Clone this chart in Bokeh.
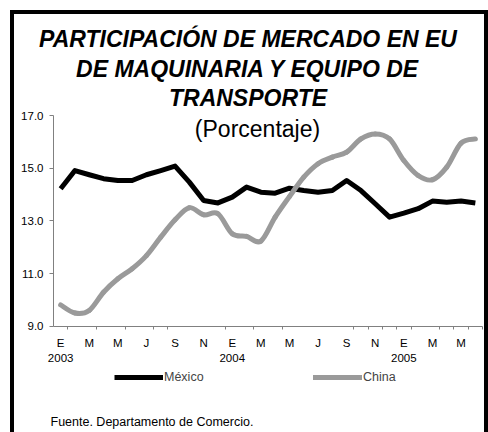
from bokeh.plotting import figure
from bokeh.models import FixedTicker, Legend, LegendItem, Label, NumeralTickFormatter, Range1d
from bokeh.embed import file_html
from bokeh.resources import INLINE

# ---- data ----
months = ["E", "F", "M", "A", "M", "J", "J", "A", "S", "O", "N", "D",
          "E", "F", "M", "A", "M", "J", "J", "A", "S", "O", "N", "D",
          "E", "F", "M", "A", "M", "J"]
years = {0: "2003", 12: "2004", 24: "2005"}
mexico = [14.22, 14.91, 14.75, 14.60, 14.53, 14.53, 14.75, 14.91, 15.08, 14.47,
          13.77, 13.68, 13.90, 14.28, 14.09, 14.05, 14.24, 14.15, 14.09, 14.15,
          14.53, 14.15, 13.65, 13.14, 13.29, 13.46, 13.75, 13.71, 13.75, 13.68]
china = [9.81, 9.50, 9.60, 10.29, 10.80, 11.18, 11.68, 12.38, 13.04, 13.50,
         13.23, 13.27, 12.51, 12.41, 12.23, 13.14, 13.92, 14.66, 15.17, 15.42,
         15.61, 16.11, 16.30, 16.11, 15.29, 14.72, 14.56, 15.04, 15.95, 16.11]
y_ticks = [9, 11, 13, 15, 17]
y_min, y_max = 9, 17
title_lines = ["PARTICIPACIÓN DE MERCADO EN EU", "DE MAQUINARIA Y EQUIPO DE", "TRANSPORTE"]
subtitle = "(Porcentaje)"
source_note = "Fuente. Departamento de Comercio."

FONT = "Liberation Sans"
W, H = 488, 432
# plot-area geometry in canvas pixels
AX_L, AX_R, AX_T, AX_B = 53, 482, 115, 325.7
x = list(range(len(months)))
n = len(months)
ppx = (AX_R - AX_L) / n
ppy = (AX_B - AX_T) / (y_max - y_min)
x_range = Range1d(-0.5 - AX_L / ppx, n - 0.5 + (W - AX_R) / ppx)
y_range = Range1d(y_min - (H - AX_B) / ppy, y_max + AX_T / ppy)

p = figure(width=W, height=H, x_range=x_range, y_range=y_range,
           output_backend="svg", toolbar_location=None,
           min_border_left=0, min_border_right=0, min_border_top=0, min_border_bottom=0)
p.styles = {"box-shadow": "inset 10px 10px 0 0 white, inset 14px 14px 0 0 black, inset -4px 0 0 0 black",
            "background-color": "white"}
p.border_fill_alpha = 0
p.background_fill_alpha = 0
p.grid.visible = False
p.outline_line_color = None

r_mx = p.line(x, mexico, line_color="black", line_width=5, line_join="round")

# China series drawn as a smoothed curve through its points (as in the original)
def smooth_segments(xs, ys):
    seg = {k: [] for k in ("x0", "y0", "x1", "y1", "cx0", "cy0", "cx1", "cy1")}
    m = len(xs)
    for i in range(m - 1):
        a, b = max(i - 1, 0), min(i + 2, m - 1)
        seg["x0"].append(xs[i]); seg["y0"].append(ys[i])
        seg["x1"].append(xs[i + 1]); seg["y1"].append(ys[i + 1])
        seg["cx0"].append(xs[i] + (xs[i + 1] - xs[a]) / 6)
        seg["cy0"].append(ys[i] + (ys[i + 1] - ys[a]) / 6)
        seg["cx1"].append(xs[i + 1] - (xs[b] - xs[i]) / 6)
        seg["cy1"].append(ys[i + 1] - (ys[b] - ys[i]) / 6)
    return seg

r_cn = p.bezier(line_color="#9a9a9a", line_width=5, line_cap="round", **smooth_segments(x, china))

# y axis
ya = p.yaxis[0]
ya.fixed_location = -0.5
ya.bounds = (y_min, y_max)
ya.ticker = FixedTicker(ticks=y_ticks, minor_ticks=[])
ya.formatter = NumeralTickFormatter(format="0.0")
ya.axis_line_color = "#808080"
ya.major_tick_line_color = "#808080"
ya.major_tick_out = 4
ya.major_tick_in = 0
ya.major_label_standoff = 6
ya.major_label_text_font = FONT
ya.major_label_text_font_size = "11.5px"
ya.major_label_text_color = "black"

# x axis
xa = p.xaxis[0]
xa.fixed_location = y_min
xa.bounds = (-0.5, n - 0.5)
major = list(range(0, n, 2))
xa.ticker = FixedTicker(ticks=major,
                        minor_ticks=[0.5, 2.5, 4.5, 6.5, 7.5, 11.5, 13.5, 15.5, 20.5,
                                     21.5, 22.5, 23.5, 24.5, 26.5, 27.5, 28.5, 29.5])
xa.major_label_overrides = {i: (months[i] + ("\n" + years[i] if i in years else "")) for i in major}
xa.axis_line_color = "#808080"
xa.major_tick_out = 0
xa.major_tick_in = 0
xa.minor_tick_out = 3
xa.minor_tick_in = 0
xa.minor_tick_line_color = "#808080"
xa.major_label_standoff = 8
xa.major_label_text_font = FONT
xa.major_label_text_font_size = "11.5px"
xa.major_label_text_color = "black"

# titles (screen units: x from left, y up from bottom)
for t, yc in zip(title_lines, [38, 68, 97]):
    p.add_layout(Label(x=247.5, y=H - yc, x_units="screen", y_units="screen", text=t,
                       text_font=FONT, text_font_style="bold italic", text_font_size="23px",
                       text_align="center", text_baseline="middle", text_color="black"))
p.add_layout(Label(x=257, y=H - 128, x_units="screen", y_units="screen", text=subtitle,
                   text_font=FONT, text_font_size="23px", text_align="center",
                   text_baseline="middle", text_color="black"))
p.add_layout(Label(x=50, y=H - 421, x_units="screen", y_units="screen", text=source_note,
                   text_font=FONT, text_font_size="12.5px", text_align="left",
                   text_baseline="middle", text_color="black"))

# legend
lg = Legend(items=[LegendItem(label="México", renderers=[r_mx]),
                   LegendItem(label="China", renderers=[r_cn])],
            location=(114, H - 377 - 10), orientation="horizontal", glyph_width=49, glyph_height=20,
            label_standoff=1, spacing=109, padding=0, margin=0, border_line_alpha=0,
            background_fill_alpha=0, label_text_font=FONT, label_text_font_size="12.5px",
            label_height=20, label_width=40)
p.add_layout(lg, "center")

open("out.html", "w").write(file_html(p, INLINE))
